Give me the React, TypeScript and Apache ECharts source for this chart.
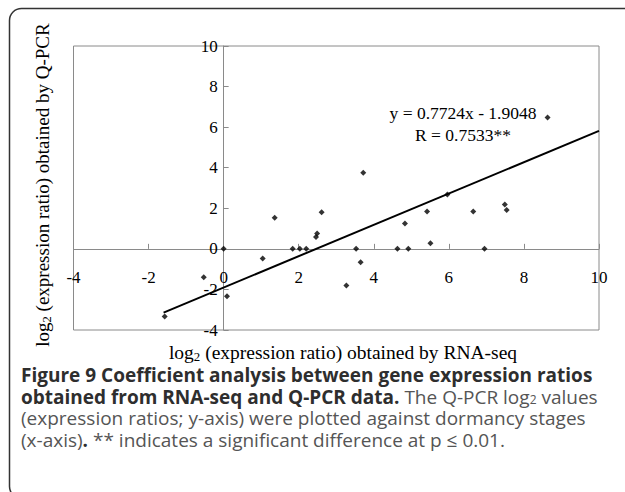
import React, { useEffect, useRef } from "react";
import * as echarts from "echarts";

const xValues = [-1.57, -0.53, 0, 0.09, 1.04, 1.36, 1.84, 2.03, 2.2, 2.46, 2.49, 2.61, 3.27, 3.53, 3.65, 3.72, 4.63, 4.83, 4.92, 5.42, 5.51, 5.96, 6.65, 6.95, 7.49, 7.54, 8.63];
const yValues = [-3.33, -1.4, 0, -2.34, -0.48, 1.53, 0, 0, 0, 0.59, 0.76, 1.81, -1.81, 0, -0.66, 3.75, 0, 1.25, 0, 1.84, 0.28, 2.68, 1.84, 0, 2.19, 1.91, 6.47];
const slope = 0.7724;
const intercept = -1.9048;
const fitStartX = -1.6;
const fitEndX = 10;
const axisMin = -4;
const axisMax = 10;
const axisStep = 2;

const serif = "Liberation Serif";
const sans = "Open Sans";

const GRID = { left: 73.5, right: 26, top: 46, bottom: 162 };
const W = 625;
const H = 492;

export default function App() {
  const ref = useRef<HTMLDivElement>(null);
  useEffect(() => {
    if (!ref.current) return;
    const chart = echarts.init(ref.current, null, { renderer: "svg" });
    const points = xValues.map((x, i) => [x, yValues[i]]);
    const fit = [fitStartX, fitEndX].map((x) => [x, slope * x + intercept]);
    const plotW = W - GRID.left - GRID.right;
    const plotH = H - GRID.top - GRID.bottom;
    const xOffset = -((0 - axisMin) / (axisMax - axisMin)) * plotH;
    const yOffset = -((0 - axisMin) / (axisMax - axisMin)) * plotW;

    const capB = { fontFamily: sans, fontWeight: "bold", fontSize: 19, fill: "#2e2e2e", lineHeight: 18 } as any;
    const capR = { fontFamily: sans, fontWeight: "normal", fontSize: 19, fill: "#555", lineHeight: 18 } as any;
    const capS = { fontFamily: sans, fontWeight: "normal", fontSize: 12, fill: "#555", verticalAlign: "bottom", lineHeight: 18 } as any;
    const t = (x: number, y: number, text: string, rich: any, extra: any = {}) => ({
      type: "text",
      x,
      y,
      ...extra,
      style: {
        text,
        rich,
        align: extra.align || "left",
        textAlign: extra.align || "left",
        verticalAlign: "middle",
        textVerticalAlign: "middle",
      },
    });
    const ax = (fs: number) => ({ fontFamily: serif, fontSize: fs, fill: "#000", lineHeight: 22 } as any);
    const axS = (fs: number) => ({ fontFamily: serif, fontSize: fs * 0.66, fill: "#000", verticalAlign: "bottom", lineHeight: 22 } as any);
    const axisCommon = {
      type: "value",
      min: axisMin,
      max: axisMax,
      interval: axisStep,
      splitLine: { show: false },
      axisLine: { onZero: false, lineStyle: { color: "#8a8a8a", width: 1 } },
      axisTick: { show: true, inside: true, length: 5, lineStyle: { color: "#8a8a8a" } },
    };
    chart.setOption({
      animation: false,
      grid: { ...GRID, show: true, borderColor: "#8a8a8a", borderWidth: 1 },
      xAxis: {
        ...axisCommon,
        offset: xOffset,
        axisLabel: { margin: 20, fontFamily: serif, fontSize: 17, color: "#000", hideOverlap: false },
      },
      yAxis: {
        ...axisCommon,
        offset: yOffset,
        axisLabel: { margin: 6, fontFamily: serif, fontSize: 17, color: "#000", hideOverlap: false },
      },
      series: [
        {
          type: "line",
          data: fit,
          symbol: "none",
          lineStyle: { color: "#000", width: 2 },
          z: 2,
        },
        {
          type: "scatter",
          data: points,
          symbol: "diamond",
          symbolSize: 6,
          itemStyle: { color: "#000" },
          z: 3,
        },
      ],
      graphic: [
        {
          type: "rect",
          shape: { x: 9.5, y: 8.5, width: 700, height: 490, r: 12 },
          style: { fill: "none", stroke: "#333", lineWidth: 1.5 },
          silent: true,
        },
        t(463, 113, "{a|y = 0.7724x - 1.9048}", { a: { fontFamily: serif, fontSize: 17.5, fill: "#000" } }, { align: "center" }),
        t(463, 135, "{a|R = 0.7533**}", { a: { fontFamily: serif, fontSize: 17.5, fill: "#000" } }, { align: "center" }),
        t(343, 352, "{a|log}{s|2}{a| (expression ratio) obtained by RNA-seq}", { a: ax(19.5), s: axS(19.5) }, { align: "center" }),
        t(42, 185, "{a|log}{s|2}{a| (expression ratio) obtained by Q-PCR}", { a: ax(19), s: axS(19) }, { align: "center", rotation: Math.PI / 2 }),
        t(21, 375, "{b|Figure 9 Coefficient analysis between gene expression ratios}", { b: capB }),
        t(21, 396.5, "{b|obtained from RNA-seq and Q-PCR data.}{r| The Q-PCR log}{s|2}{r| values}", { b: capB, r: capR, s: capS }),
        t(21, 418, "{r|(expression ratios; y-axis) were plotted against dormancy stages}", { r: capR }),
        t(21, 439.5, "{r|(x-axis)}{b|.}{r| ** indicates a significant difference at p ≤ 0.01.}", { b: capB, r: capR }),
      ],
    });
    return () => chart.dispose();
  }, []);
  return <div ref={ref} style={{ position: "fixed", left: 0, top: 0, width: W, height: H, background: "#fff" }} />;
}
